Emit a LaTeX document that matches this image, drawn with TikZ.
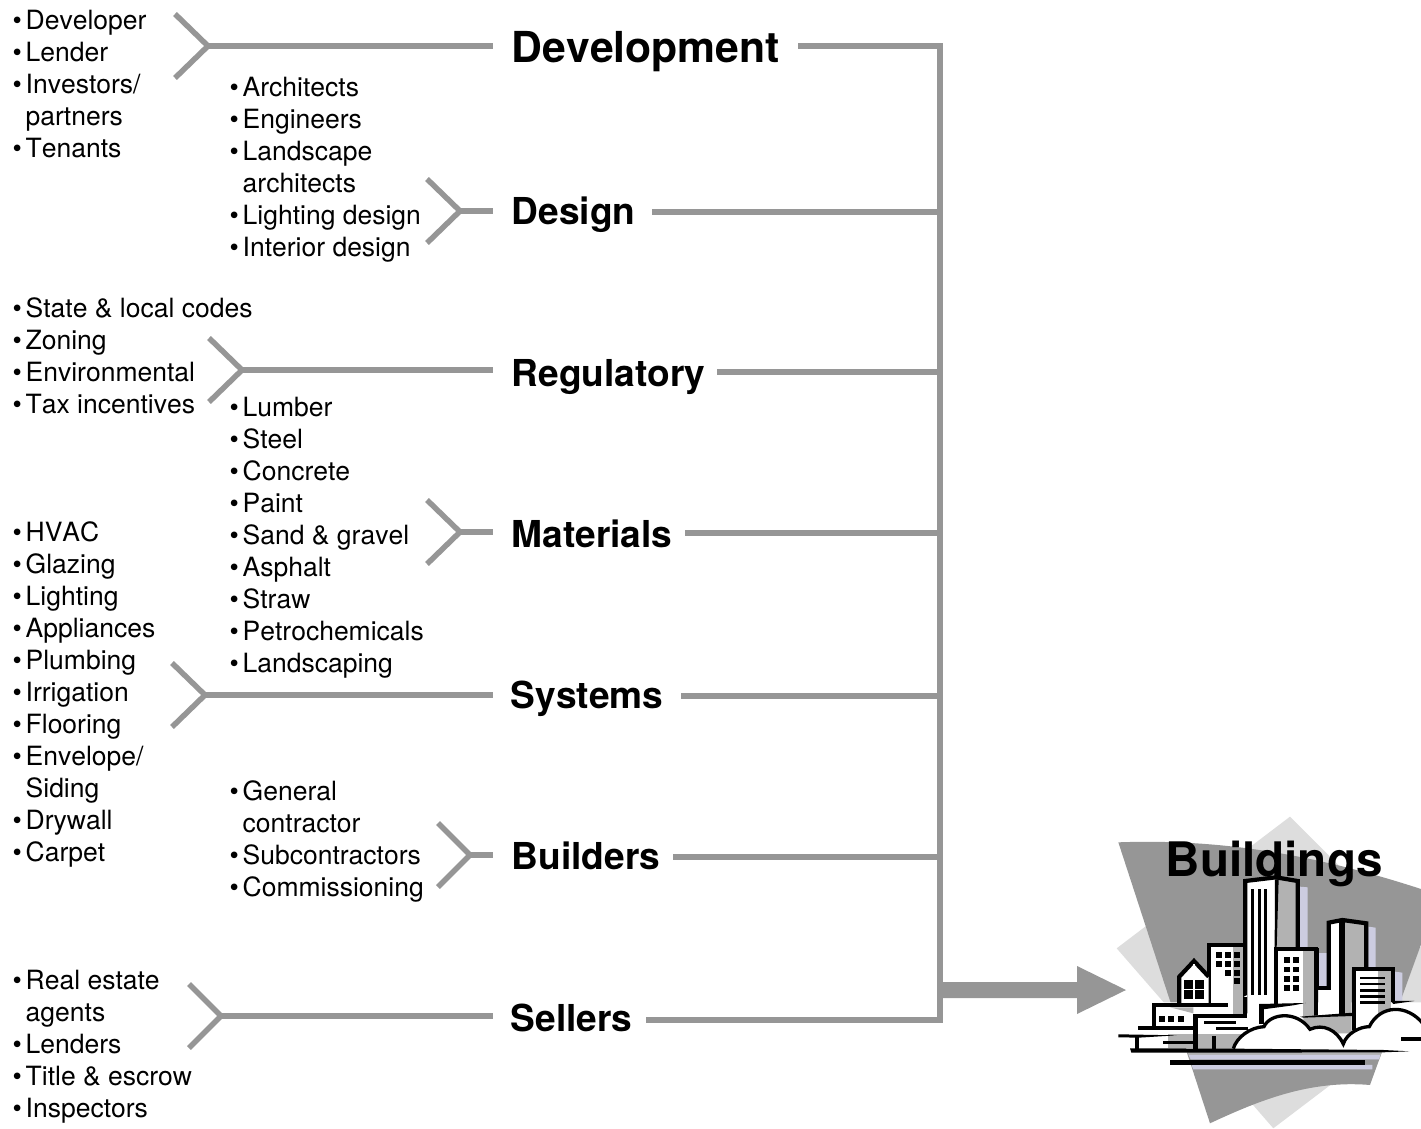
\documentclass[tikz,border=0pt]{standalone}
\usepackage{fontspec}
\setmainfont{TeX Gyre Heros}[Kerning=Off]
\newcommand{\bi}[1]{\makebox[12pt][l]{\hspace{-1pt}\textbullet}#1}
\newcommand{\ci}[1]{\hspace*{12pt}#1}
\tikzset{
 x=1pt,y=-1pt,
 listtext/.style={anchor=north west,inner sep=0pt,align=left,font=\fontsize{26.5}{32}\selectfont},
 head/.style={anchor=base west,inner sep=0pt,font=\fontsize{37.1}{40}\selectfont\bfseries},
 conn/.style={draw=linegray,line width=5.5pt},
 bk/.style={draw=black,line width=4.2pt,line join=miter},
}
\definecolor{linegray}{HTML}{969696}
\definecolor{ltgray}{HTML}{DDDDDD}
\definecolor{clipgray}{HTML}{969696}
\definecolor{midgray}{HTML}{B2B2B2}
\definecolor{lav}{HTML}{CCCCE0}
\begin{document}
\begin{tikzpicture}
\useasboundingbox (0,0) rectangle (1421,1129);
% clipart
\begin{scope}
\clip (0,0) rectangle (1421,1129);
\begin{scope}[shift={(1060,800)},x=0.3333pt,y=-0.3333pt]
\fill[ltgray] (690,50) -- (1200,560) -- (640,985) -- (170,445) -- cycle;
\fill[clipgray] (175,127) .. controls (500,115) and (800,170) .. (1137,285) -- (930,855) .. controls (750,840) and (600,900) .. (450,970) -- cycle;
\fill[white] (300,607) -- (1083,607) -- (1083,755) -- (960,757) -- (385,757) -- (350,757) -- cycle;
% shadows
\fill[lav] (720,260) -- (743,262) -- (743,445) -- (720,445) -- cycle;
\fill[lav] (775,458) -- (800,458) -- (800,560) -- (775,560) -- cycle;
\fill[lav] (925,380) -- (947,383) -- (947,505) -- (925,505) -- cycle;
\fill[lav] (1005,515) -- (1027,518) -- (1027,607) -- (1005,607) -- cycle;
\fill[midgray] (382,757) -- (965,757) -- (958,778) -- (392,778) -- cycle;
\fill[lav] (386,765) -- (960,765) -- (958,778) -- (392,778) -- cycle;
\fill[lav] (395,795) -- (937,795) -- (937,808) -- (399,808) -- cycle;
% tall tower
\fill[white] (556,243) -- (650,232) -- (650,640) -- (556,640) -- cycle;
\fill[midgray] (650,232) -- (713,243) -- (713,445) -- (650,445) -- cycle;
\draw[bk] (556,640) -- (556,243) -- (648,232) -- (713,243) -- (713,445);
\fill (645,238) -- (656,238) -- (650,445) -- (644,445) -- cycle;
\foreach \q in {574,595,613}{\fill (\q,267) rectangle +(9,318);}
\fill[white] (552,590) -- (562,585) -- (560,597) -- (548,598) -- cycle;
% second tower
\fill[white] (775,570) -- (806,570) -- (806,372) -- (845,365) -- (845,640) -- (775,645) -- cycle;
\fill[midgray] (850,362) -- (919,372) -- (919,510) -- (875,510) -- (875,640) -- (850,640) -- cycle;
\draw[bk] (806,570) -- (806,368) -- (847,360) -- (919,370) -- (919,505);
\fill (837,362) rectangle (855,642);
\draw[bk] (775,564) -- (806,564);
\fill (772,445) rectangle (778,570);
% window block left
\fill[white] (452,438) rectangle (520,610);
\fill[midgray] (520,438) rectangle (550,642);
\fill[white] (505,610) rectangle (520,636);
\draw[bk] (446,610) -- (446,434) -- (556,434);
\foreach \a/\b in {468/457,495/457,522/457,468/483,495/483,522/483,495/509,522/509,522/535}{\fill (\a,\b) rectangle +(18,18);}
% mid building
\fill[white] (655,450) rectangle (728,640);
\fill[midgray] (728,450) rectangle (763,650);
\draw[bk] (649,625) -- (649,446) -- (769,446) -- (769,648);
\foreach \b in {472,500,528,555}{\fill (673,\b) rectangle +(17,17); \fill (700,\b) rectangle +(17,17);}
% right building
\fill[white] (887,510) rectangle (953,690);
\fill[midgray] (953,510) rectangle (993,640);
\draw[bk] (881,690) -- (881,506) -- (999,506) -- (999,607);
\foreach \b in {530,548,568,585,603}{\fill (900,\b) rectangle +(75,8);}
% house
\fill[white] (358,530) -- (402,485) -- (446,530) -- (446,610) -- (358,610) -- cycle;
\draw[bk] (358,610) -- (358,530) -- (402,483) -- (446,530);
\fill[white] (398,492) rectangle (405,498);
\fill (372,540) rectangle (398,566); \fill (404,540) rectangle (432,566);
\fill (372,570) rectangle (398,598); \fill (404,570) rectangle (432,598);
% low building
\fill[white] (287,622) rectangle (400,678);
\fill[midgray] (330,622) -- (400,622) -- (400,640) -- cycle;
\fill (275,608) rectangle (505,622);
\fill (275,608) rectangle (287,690);
\foreach \a in {298,325,355}{\fill (\a,648) rectangle +(17,17);}
\fill (235,678) rectangle (400,690);
% foreground
\fill[white] (415,655) rectangle (600,703);
\fill[midgray] (415,703) rectangle (560,747);
\fill[white] (237,705) rectangle (400,745);
\fill[midgray] (325,703) rectangle (400,745);
\fill (400,642) rectangle (415,750);
\fill (400,642) rectangle (562,655);
\fill (550,590) rectangle (562,655);
\fill (432,663) rectangle (528,672);
\fill (468,682) rectangle (565,690);
\fill (455,708) rectangle (468,750);
\fill (175,703) -- (350,706) -- (237,713) -- (175,712) -- cycle;
\fill (225,710) rectangle (237,755);
\fill (310,724) rectangle (400,732);
% right-lower bits
\fill[white] (610,625) -- (735,610) -- (735,650) -- (610,680) -- cycle;
\fill[midgray] (728,612) rectangle (763,648);
\fill (598,612) rectangle (612,672);
\fill (598,612) -- (737,609) -- (700,616) -- (610,628) -- cycle;
\fill[midgray] (730,648) -- (875,642) -- (875,700) -- (730,700) -- cycle;
\fill (720,650) -- (880,638) -- (880,648) -- (730,653) -- cycle;
\fill (993,603) -- (1063,603) -- (1000,612) -- cycle;
% clouds
\fill[white] (520,748) .. controls (530,712) and (570,682) .. (612,680) .. controls (630,640) and (710,630) .. (750,688) .. controls (790,670) and (830,690) .. (850,732) .. controls (860,700) and (900,680) .. (928,680) .. controls (960,615) and (1040,610) .. (1090,672) -- (1090,755) -- cycle;
\draw[line width=3.3pt,line join=miter] (520,746) .. controls (530,712) and (570,682) .. (612,680) .. controls (630,640) and (710,630) .. (750,688) .. controls (790,670) and (830,690) .. (850,732) .. controls (860,700) and (900,680) .. (928,680) .. controls (960,615) and (1040,610) .. (1090,672);
\fill (1023,712) rectangle (1083,723);
% ground
\fill (210,745) -- (520,746) -- (970,750) -- (1048,754) -- (970,757) -- (520,758) -- (214,758) -- cycle;
\fill (330,780) rectangle (915,795);
\end{scope}
\end{scope}
% big arrow
\coordinate (busarrow) at (940,990);
\coordinate (arrowtip) at (1126,990);
\fill[linegray] (busarrow) ++(0,-8) -- (1077,982) -- (1077,966) -- (arrowtip) -- (1077,1014) -- (1077,998) -- (940,998) -- cycle;
% headings
\node[head,font=\fontsize{42.7}{44}\selectfont\bfseries] (dev) at (511.5,62.5) {Development};
\node[head] (des) at (511.5,224) {Design};
\node[head] (reg) at (511.5,386) {Regulatory};
\node[head] (mat) at (511.5,547) {Materials};
\node[head] (sys) at (510.5,708) {Systems};
\node[head] (bui) at (511.5,869) {Builders};
\node[head] (sel) at (510.5,1031) {Sellers};
\node[anchor=base west,inner sep=0pt,font=\fontsize{47.6}{50}\selectfont\bfseries] (bld) at (1165.5,876) {Buildings};
% lists
\node[listtext] (l1) at (13.5,10) {\bi{Developer}\\\bi{Lender}\\\bi{Investors/}\\\ci{partners}\\\bi{Tenants}};
\node[listtext] (l2) at (230.5,77) {\bi{Architects}\\\bi{Engineers}\\\bi{Landscape}\\\ci{architects}\\\bi{Lighting design}\\\bi{Interior design}};
\node[listtext] (l3) at (13.5,298) {\bi{State \& local codes}\\\bi{Zoning}\\\bi{Environmental}\\\bi{Tax incentives}};
\node[listtext] (l4) at (230.5,397) {\bi{Lumber}\\\bi{Steel}\\\bi{Concrete}\\\bi{Paint}\\\bi{Sand \& gravel}\\\bi{Asphalt}\\\bi{Straw}\\\bi{Petrochemicals}\\\bi{Landscaping}};
\node[listtext] (l5) at (13.5,521) {\bi{HVAC}\\\bi{Glazing}\\\bi{Lighting}\\\bi{Appliances}\\\bi{Plumbing}\\\bi{Irrigation}\\\bi{Flooring}\\\bi{Envelope/}\\\ci{Siding}\\\bi{Drywall}\\\bi{Carpet}};
\node[listtext] (l6) at (230.5,780) {\bi{General}\\\ci{contractor}\\\bi{Subcontractors}\\\bi{Commissioning}};
\node[listtext] (l7) at (13.5,970) {\bi{Real estate}\\\ci{agents}\\\bi{Lenders}\\\bi{Title \& escrow}\\\bi{Inspectors}};
% bus
\coordinate (bustop) at (940,46);
\coordinate (busbot) at (940,1020);
\draw[conn,line width=6pt,line cap=rect] (bustop) -- (busbot);
\foreach \n/\x/\y in {dev/798/46,des/652/212,reg/717/372,mat/685/533,sys/681/696,bui/673/857,sel/646/1020}{
  \coordinate (s\n) at (\x,\y);
  \coordinate (e\n) at (940,\y);
  \draw[conn] (s\n) -- (e\n);
}
% forks
\foreach \n/\xa/\xb/\y/\e in {fa/175/208/46/493,fb/427/460/211/493,fc/209/242/370/493,fd/427/460/532/493,fe/172/205/695/493,ff/438/470/855/493,fg/189/221/1016/493}{
  \coordinate (\n u) at (\xa,\y-32);
  \coordinate (\n t) at (\xb,\y);
  \coordinate (\n d) at (\xa,\y+32);
  \coordinate (\n e) at (\e,\y);
  \draw[conn,line join=miter] (\n u) -- (\n t) -- (\n d);
  \draw[conn] (\n t) -- (\n e);
}
\end{tikzpicture}
\end{document}
